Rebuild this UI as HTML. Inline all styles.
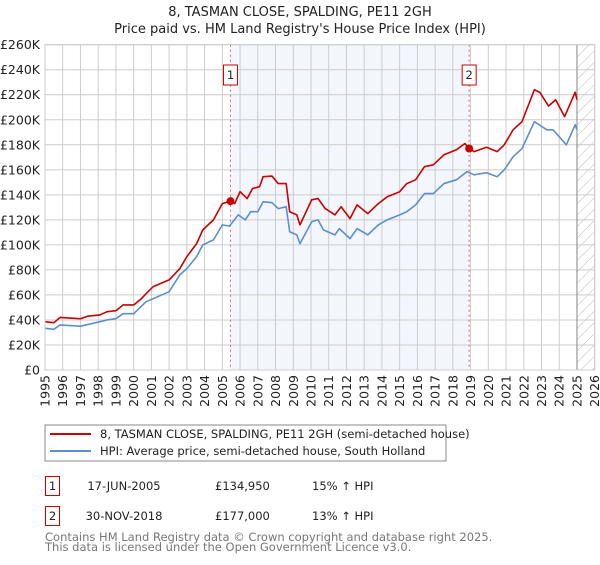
<!DOCTYPE html>
<html><head><meta charset="utf-8"><style>
body{margin:0;background:#fff;}
svg{font-family:"DejaVu Sans","Liberation Sans",sans-serif;}
</style></head><body>
<svg id="chart" width="600" height="560" viewBox="0 0 600 560" xmlns="http://www.w3.org/2000/svg">
<defs><pattern id="hatch" width="8" height="8" patternUnits="userSpaceOnUse" patternTransform="rotate(45)"><line x1="0" y1="0" x2="0" y2="8" stroke="#bbb" stroke-width="1"/></pattern></defs>
<text x="300" y="16" text-anchor="middle" font-size="13" fill="#222">8, TASMAN CLOSE, SPALDING, PE11 2GH</text>
<text x="300" y="33" text-anchor="middle" font-size="13" fill="#222">Price paid vs. HM Land Registry's House Price Index (HPI)</text>
<g id="plot"></g>
<g>
<rect x="45" y="425" width="401" height="36" fill="#fff" stroke="#888"/>
<line x1="50" y1="434" x2="91" y2="434" stroke="#cc0000" stroke-width="2"/>
<text x="100" y="438" font-size="11.5" fill="#222">8, TASMAN CLOSE, SPALDING, PE11 2GH (semi-detached house)</text>
<line x1="50" y1="451" x2="91" y2="451" stroke="#5b8fd0" stroke-width="2"/>
<text x="100" y="455" font-size="11.5" fill="#222">HPI: Average price, semi-detached house, South Holland</text>
</g>
<g font-size="11.5" fill="#222">
<rect x="45.5" y="476.5" width="14" height="19" fill="#fff" stroke="#cc0000"/>
<text x="52.5" y="490" text-anchor="middle">1</text>
<text x="124" y="490" text-anchor="middle">17-JUN-2005</text>
<text x="215" y="490">£134,950</text>
<text x="312" y="490">15% ↑ HPI</text>
</g>
<g font-size="11.5" fill="#222">
<rect x="45.5" y="506.5" width="14" height="19" fill="#fff" stroke="#cc0000"/>
<text x="52.5" y="520" text-anchor="middle">2</text>
<text x="124" y="520" text-anchor="middle">30-NOV-2018</text>
<text x="215" y="520">£177,000</text>
<text x="312" y="520">13% ↑ HPI</text>
</g>
<text x="45" y="541" font-size="11.5" fill="#777">Contains HM Land Registry data © Crown copyright and database right 2025.</text>
<text x="45" y="551" font-size="11.5" fill="#777">This data is licensed under the Open Government Licence v3.0.</text>
</svg>
<script>
const hpiYears=[1995,1995.5,1995.85,1997,1998.1,1998.5,1999,1999.4,2000,2000.7,2001.1,2002,2002.6,2003,2003.55,2003.9,2004.5,2005,2005.4,2005.9,2006.3,2006.6,2007,2007.3,2007.8,2008.15,2008.6,2008.8,2009.2,2009.38,2010.04,2010.4,2010.7,2011.35,2011.6,2012.2,2012.6,2013.2,2013.8,2014.3,2015,2015.4,2015.9,2016.4,2016.9,2017.5,2018.2,2018.8,2019.2,2019.9,2020.5,2020.9,2021.4,2021.9,2022.6,2023.3,2023.65,2024.4,2024.9,2025.0];
const hpiValues=[33.3,32.5,36,35,38.6,40,41,45,45,54.6,57,62.6,76,81,90.6,100,104,116,115,124,120,126.5,126.5,134.5,133.7,129,130.5,110.5,108,101,118.5,120,112,108,113,105,113,108,116,120,124,126.5,132,141,141,149,152,158.5,156,157.7,154.5,160,170.5,177,198.5,192,192,180,196,192];
const priceYears=[1995,1995.5,1995.85,1997,1997.4,1998.1,1998.5,1999,1999.4,2000,2000.4,2000.7,2001.1,2002,2002.6,2003,2003.55,2003.9,2004.5,2005,2005.46,2005.7,2006,2006.4,2006.7,2007.1,2007.3,2007.8,2008.15,2008.6,2008.8,2009.2,2009.38,2010.04,2010.4,2010.8,2011.35,2011.7,2012.2,2012.6,2013.2,2013.8,2014.3,2015,2015.4,2015.9,2016.4,2016.9,2017.5,2018.2,2018.68,2018.92,2019.2,2019.9,2020.5,2020.9,2021.4,2021.9,2022.6,2022.9,2023.4,2023.8,2024.3,2024.9,2025.0];
const priceValues=[38.6,37.8,42,41,43,44,46.6,47.4,52,52,56.5,61,66.6,72,81,90.6,101,112,120,133,134.95,133,142.5,137,145,146.5,154.5,155,149,149,126.5,124,116,136,137,129,124,130.5,121,132,125,133,138.5,142.5,149,152,162.5,164,172,176,181,177,174.5,178,174.5,180,192,198.5,224,222,211,216,202.5,222,216];
const yTicks=[0,20,40,60,80,100,120,140,160,180,200,220,240,260];
const xTicks=[1995,1996,1997,1998,1999,2000,2001,2002,2003,2004,2005,2006,2007,2008,2009,2010,2011,2012,2013,2014,2015,2016,2017,2018,2019,2020,2021,2022,2023,2024,2025,2026];
const saleYears=[2005.46,2018.92];
const saleValues=[134.95,177];
const saleLabels=["1","2"];
const dataEnd=2025.0;

const X0=45,X1=594.7,Y0=370,Y1=44.7;
const xs=y=>X0+(y-1995)/(2026-1995)*(X1-X0);
const ys=v=>Y0-v/260*(Y0-Y1);
const NS="http://www.w3.org/2000/svg";
const g=document.getElementById('plot');
function mk(t,a){const e=document.createElementNS(NS,t);for(const k in a)e.setAttribute(k,a[k]);g.appendChild(e);return e;}

const shade=mk('rect',{x:xs(saleYears[0]),y:Y1,width:xs(saleYears[1])-xs(saleYears[0]),height:Y0-Y1,fill:'#eef3fc',opacity:0.7});


const hat=mk('rect',{x:xs(dataEnd),y:Y1,width:X1-xs(dataEnd),height:Y0-Y1,fill:'url(#hatch)'});



yTicks.forEach(v=>{
  const l=mk('line',{x1:X0,x2:X1,y1:ys(v),y2:ys(v),stroke:'#ccc','stroke-width':1});
  
  
  const t=mk('text',{x:X0-5,y:ys(v)+4.5,'text-anchor':'end','font-size':12.5,fill:'#222'});
  
  
  t.textContent=v===0?'£0':'£'+v+'K';
});
xTicks.forEach(yr=>{
  const l=mk('line',{x1:xs(yr),x2:xs(yr),y1:Y1,y2:Y0,stroke:'#ccc','stroke-width':1});
  
  
  const t=mk('text',{x:0,y:0,'text-anchor':'end','font-size':12.5,fill:'#222',transform:`translate(${xs(yr)+4.5},375) rotate(-90)`});
  
  
  t.textContent=yr;
});
const endLine=mk('line',{x1:xs(dataEnd),x2:xs(dataEnd),y1:Y1,y2:Y0,stroke:'#888','stroke-width':1});



saleYears.forEach((yr,i)=>{
  const l=mk('line',{x1:xs(yr),x2:xs(yr),y1:Y1,y2:Y0,stroke:'#e06666','stroke-width':1,'stroke-dasharray':'2,3'});
  
  
});

const hp=mk('polyline',{points:hpiYears.map((y,i)=>xs(y)+','+ys(hpiValues[i])).join(' '),fill:'none',stroke:'#5b8fd0','stroke-width':1.6,'stroke-linejoin':'round'});


const pp=mk('polyline',{points:priceYears.map((y,i)=>xs(y)+','+ys(priceValues[i])).join(' '),fill:'none',stroke:'#cc0000','stroke-width':1.6,'stroke-linejoin':'round'});



saleYears.forEach((yr,i)=>{
  const c=mk('circle',{cx:xs(yr),cy:ys(saleValues[i]),r:4,fill:'#cc0000'});
  
  
  const b=mk('rect',{x:xs(yr)-7,y:65,width:14,height:20,fill:'#fff',stroke:'#cc0000'});
  
  
  const t=mk('text',{x:xs(yr),y:79,'text-anchor':'middle','font-size':11.5,fill:'#222'});
  
  
  t.textContent=saleLabels[i];
});
const fr=mk('rect',{x:X0,y:Y1,width:X1-X0,height:Y0-Y1,fill:'none',stroke:'#ccc'});


</script>
</body></html>
